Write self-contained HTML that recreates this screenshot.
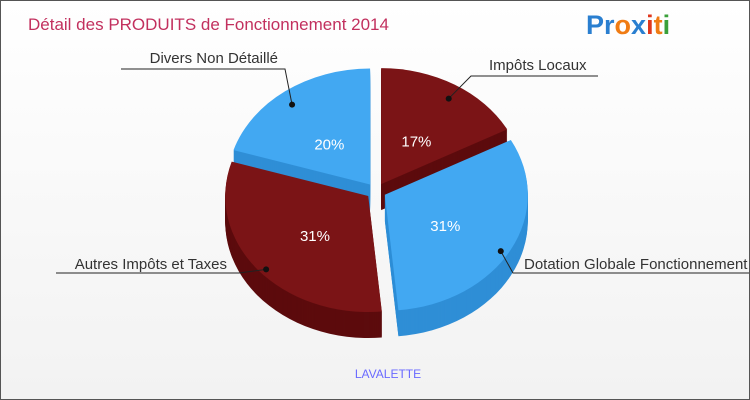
<!DOCTYPE html>
<html><head><meta charset="utf-8"><style>
body{margin:0;}
#wrap{width:748px;height:398px;border:1px solid #555;background:linear-gradient(#fff,#f2f2f2);position:relative;overflow:hidden;font-family:"Liberation Sans",sans-serif;}
</style></head><body>
<div id="wrap">
<svg id="svg" width="748" height="398">
<text x="27" y="29" font-size="17" fill="#c2305e">Détail des PRODUITS de Fonctionnement 2014</text>
<text x="585" y="33" font-size="27" font-weight="bold"><tspan fill="#2a7fd0">Pr</tspan><tspan fill="#f07c14">o</tspan><tspan fill="#2a7fd0">x</tspan><tspan fill="#e0371c">i</tspan><tspan fill="#f07c14">t</tspan><tspan fill="#3aa03a">i</tspan></text>
<g id="pie"></g>
<text x="387" y="377" font-size="12" fill="#6a6aff" text-anchor="middle">LAVALETTE</text>
</svg>
</div>
<script>
const categories=["Impôts Locaux","Dotation Globale Fonctionnement","Autres Impôts et Taxes","Divers Non Détaillé"];
const values=[17,31,31,20];
const topColors=["#7b1416","#42a8f2","#7b1416","#42a8f2"];
const sideColors=["#5c0b0d","#2f8ed6","#5c0b0d","#2f8ed6"];
const NS="http://www.w3.org/2000/svg";
const g=document.getElementById('pie');
const cx=375,cy=190,rx=143,ry=116,depth=26,ex=10;
const total=values.reduce((a,b)=>a+b,0);
function pt(t,dx,dy,r){return [cx+dx+rx*r*Math.sin(t),cy+dy-ry*r*Math.cos(t)];}
function slicePath(a0,a1,dx,dy){
  const p0=pt(a0,dx,dy,1),p1=pt(a1,dx,dy,1),c=[cx+dx,cy+dy];
  const large=(a1-a0)>Math.PI?1:0;
  return `M${c[0]},${c[1]} L${p0[0]},${p0[1]} A${rx},${ry} 0 ${large} 1 ${p1[0]},${p1[1]} Z`;
}
let acc=0;const slices=[];
values.forEach((v,i)=>{const a0=acc/total*2*Math.PI;acc+=v;const a1=acc/total*2*Math.PI;const m=(a0+a1)/2;
slices.push({a0,a1,m,dx:ex*Math.sin(m),dy:-ex*0.8*Math.cos(m)});});
slices.forEach((s,i)=>{
  for(let d=depth;d>0;d-=1){
    const p=document.createElementNS(NS,'path');
    p.setAttribute('d',slicePath(s.a0,s.a1,s.dx,s.dy+d));
    p.setAttribute('fill',sideColors[i]);
    
    
    g.appendChild(p);
  }
});
slices.forEach((s,i)=>{
  const p=document.createElementNS(NS,'path');
  p.setAttribute('d',slicePath(s.a0,s.a1,s.dx,s.dy));
  p.setAttribute('fill',topColors[i]);
  
  
  g.appendChild(p);
  const lp=pt(s.m,s.dx,s.dy,0.48);
  const t=document.createElementNS(NS,'text');
  t.setAttribute('x',lp[0]);t.setAttribute('y',lp[1]+10);
  t.setAttribute('text-anchor','middle');t.setAttribute('font-size','15');
  t.setAttribute('fill','#fff');
  
  
  t.textContent=Math.round(values[i]/total*100)+'%';
  g.appendChild(t);
});
const labelPos=[[597,75,'start',488,69,470],[750,272,'start',523,268,512],[55,272,'end',226,268,238],[120,68,'end',277,62,284]];
slices.forEach((s,i)=>{
  const [lx,ly,anchor,tx,ty,bx]=labelPos[i];
  const e=pt(s.m,s.dx,s.dy+6,0.92);
  const line=document.createElementNS(NS,'polyline');
  line.setAttribute('points',`${lx},${ly} ${bx},${ly} ${e[0]},${e[1]}`);
  line.setAttribute('fill','none');line.setAttribute('stroke','#222');
  
  
  g.appendChild(line);
  const dot=document.createElementNS(NS,'circle');
  dot.setAttribute('cx',e[0]);dot.setAttribute('cy',e[1]);dot.setAttribute('r',3);
  dot.setAttribute('fill','#111');
  
  
  g.appendChild(dot);
  const t=document.createElementNS(NS,'text');
  t.setAttribute('x',tx);t.setAttribute('y',ty);
  t.setAttribute('text-anchor',anchor);t.setAttribute('font-size','15');t.setAttribute('fill','#333');
  
  
  t.textContent=categories[i];
  g.appendChild(t);
});
</script>
</body></html>
